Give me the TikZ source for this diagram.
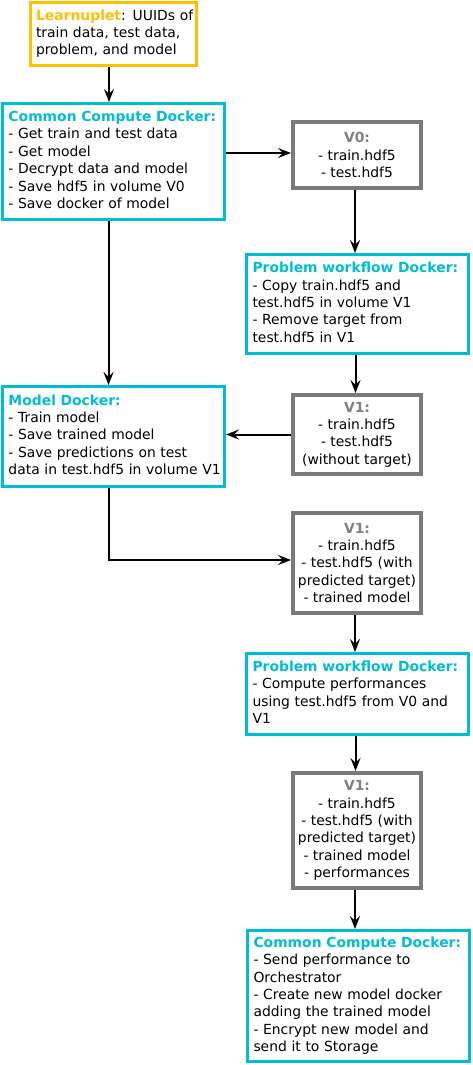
\documentclass[tikz,border=0pt]{standalone}
\usepackage{fontspec}
\setmainfont{DejaVu Sans}
\usetikzlibrary{arrows.meta}
\definecolor{cy}{RGB}{0,188,212}
\definecolor{yl}{RGB}{255,192,0}
\definecolor{gr}{RGB}{122,122,122}
\definecolor{grt}{RGB}{128,128,128}
\newcommand{\txtlines}[1]{\begin{tabular}{@{}l@{}}#1\end{tabular}}
\begin{document}
\begin{tikzpicture}[x=1pt,y=-1pt,
  base/.style={font=\fontsize{13.9}{17.4}\selectfont, fill=white, inner ysep=0pt},
  dock/.style={base, draw=cy, line width=3pt, text width=210pt, inner xsep=6pt, align=left},
  learnbox/.style={base, draw=yl, line width=3pt, text width=154pt, inner xsep=6pt, align=left},
  vol/.style={base, draw=gr, line width=4pt, minimum width=128pt, inner xsep=2pt, align=center},
  arr/.style={line width=2pt, -{Stealth[length=13pt,width=10pt,inset=5pt]}}]
\useasboundingbox (0,0) rectangle (472,1065);

\node[learnbox, minimum height=63pt] (learn) at (113,34)
  {\txtlines{{\bfseries\color{yl}Learnuplet}: UUIDs of\\train data, test data,\\problem, and model}};

\node[dock, minimum height=116pt] (ccd1) at (113.5,161.5)
  {\txtlines{{\bfseries\color{cy}Common Compute Docker:}\\- Get train and test data\\- Get model\\- Decrypt data and model\\- Save hdf5 in volume V0\\- Save docker of model}};

\node[vol, minimum height=66pt] (v0) at (357,155)
  {{\bfseries\color{grt}V0:}\\- train.hdf5\\- test.hdf5};

\node[dock, minimum height=99pt] (pwd1) at (357.5,304)
  {\txtlines{{\bfseries\color{cy}Problem workflow Docker:}\\- Copy train.hdf5 and\\test.hdf5 in volume V1\\- Remove target from\\test.hdf5 in V1}};

\node[vol, minimum height=79pt] (v1a) at (357,434.5)
  {{\bfseries\color{grt}V1:}\\- train.hdf5\\- test.hdf5\\(without target)};

\node[dock, minimum height=100pt] (md) at (113.5,436.5)
  {\txtlines{{\bfseries\color{cy}Model Docker:}\\- Train model\\- Save trained model\\- Save predictions on test\\data in test.hdf5 in volume V1}};

\node[vol, minimum height=100pt] (v1b) at (357,563)
  {{\bfseries\color{grt}V1:}\\- train.hdf5\\- test.hdf5 (with\\predicted target)\\- trained model};

\node[dock, minimum height=81pt] (pwd2) at (357.5,694)
  {\txtlines{{\bfseries\color{cy}Problem workflow Docker:}\\- Compute performances\\using test.hdf5 from V0 and\\V1}};

\node[vol, minimum height=115pt] (v1c) at (357,830.5)
  {{\bfseries\color{grt}V1:}\\- train.hdf5\\- test.hdf5 (with\\predicted target)\\- trained model\\- performances};

\node[dock, minimum height=131pt] (ccd3) at (358.5,996)
  {\txtlines{{\bfseries\color{cy}Common Compute Docker:}\\- Send performance to\\Orchestrator\\- Create new model docker\\adding the trained model\\- Encrypt new model and\\send it to Storage}};

\draw[arr] ([xshift=-4pt]learn.south) -- ([xshift=-4pt]learn.south |- ccd1.north);
\draw[arr] ([yshift=2pt]ccd1.east |- v0.west) -- ([yshift=2pt]v0.west);
\draw[arr] ([xshift=-2pt]v0.south) -- ([xshift=-2pt]v0.south |- pwd1.north);
\draw[arr] ([xshift=-5pt]ccd1.south) -- ([xshift=-5pt]md.north);
\draw[arr] ([xshift=-2pt]pwd1.south) -- ([xshift=-2pt]pwd1.south |- v1a.north);
\draw[arr] (v1a.west) -- (v1a.west -| md.east);
\draw[arr] ([xshift=-5pt]md.south) |- ([yshift=3pt]v1b.west);
\draw[arr] ([xshift=-2pt]v1b.south) -- ([xshift=-2pt]v1b.south |- pwd2.north);
\draw[arr] ([xshift=-2pt]pwd2.south) -- ([xshift=-2pt]pwd2.south |- v1c.north);
\draw[arr] ([xshift=-2pt]v1c.south) -- ([xshift=-2pt]v1c.south |- ccd3.north);
\end{tikzpicture}
\end{document}
